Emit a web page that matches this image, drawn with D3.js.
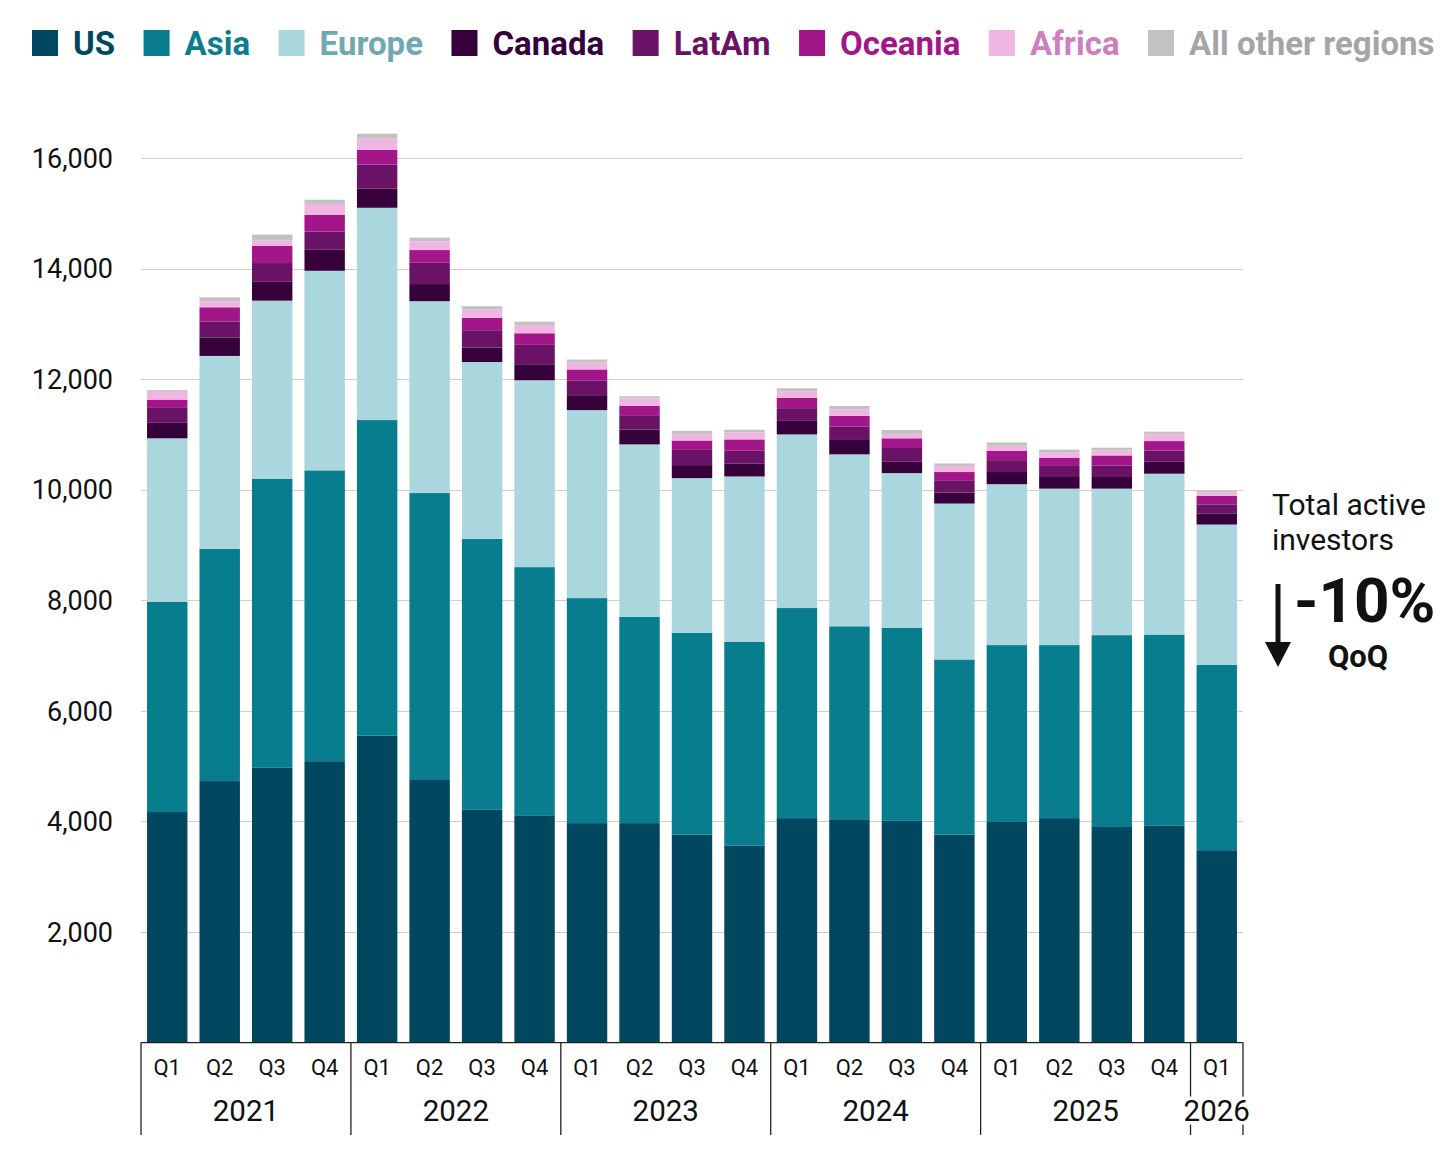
<!DOCTYPE html>
<html>
<head>
<meta charset="utf-8">
<script src="https://cdn.jsdelivr.net/npm/d3@7"></script>
<style>
  body { margin: 0; background: #fff; }
  svg { display: block; font-family: Roboto, "Noto Sans", sans-serif; }
</style>
</head>
<body>
<script>
// quarters and years
var quarters = ["Q1","Q2","Q3","Q4","Q1","Q2","Q3","Q4","Q1","Q2","Q3","Q4","Q1","Q2","Q3","Q4","Q1","Q2","Q3","Q4","Q1"];
var years = ["2021","2021","2021","2021","2022","2022","2022","2022","2023","2023","2023","2023","2024","2024","2024","2024","2025","2025","2025","2025","2026"];

// active investors per region
var us      = [4170,4730,4970,5090,5550,4750,4210,4100,3970,3970,3760,3560,4060,4040,4010,3760,3990,4060,3900,3920,3480];
var asia    = [3800,4200,5230,5260,5710,5190,4900,4500,4070,3730,3650,3690,3800,3490,3490,3170,3200,3130,3470,3460,3350];
var europe  = [2960,3490,3220,3610,3840,3470,3200,3380,3400,3120,2800,2990,3140,3110,2800,2820,2910,2830,2650,2910,2540];
var canada  = [280,330,340,380,350,310,260,290,270,270,235,230,245,260,205,200,220,210,210,215,195];
var latam   = [270,295,340,330,430,385,315,350,260,245,275,235,230,240,250,210,215,200,210,205,170];
var oceania = [150,255,310,300,265,230,225,210,205,180,170,205,185,195,175,160,170,150,180,170,155];
var africa  = [140,110,95,200,205,160,150,150,125,135,120,125,120,120,80,110,90,100,90,130,60];
var other   = [30,70,110,75,90,65,60,60,55,40,55,50,55,60,70,45,60,45,50,40,35];

var regions = ["US","Asia","Europe","Canada","LatAm","Oceania","Africa","All other regions"];
var barColors = ["#01475f","#087d8e","#aad7de","#36003b","#6a1266","#a3168a","#f1b5e2","#c2c2c2"];
var textColors = ["#01475f","#087d8e","#6fa7b3","#36003b","#6a1266","#a3168a","#cf7fbf","#a5a5a5"];
var yTicks = [2000,4000,6000,8000,10000,12000,14000,16000];

var series = [us, asia, europe, canada, latam, oceania, africa, other];

var width = 1456, height = 1165;
var plotLeft = 141, plotRight = 1243, plotTop = 158, plotBase = 1042.6;

var rows = quarters.map(function(q, i) {
  var r = {key: i};
  regions.forEach(function(name, k) { r[name] = series[k][i]; });
  return r;
});

var svg = d3.select("body").append("svg")
    .attr("width", width)
    .attr("height", height);

var x = d3.scaleBand()
    .domain(d3.range(quarters.length))
    .range([plotLeft, plotRight])
    .paddingInner(0.23)
    .paddingOuter(0.115);

var y = d3.scaleLinear().domain([0, 16000]).range([plotBase, plotTop]);

// grid
svg.append("g").selectAll("line")
    .data(yTicks)
  .enter().append("line")
    .attr("x1", plotLeft).attr("x2", plotRight)
    .attr("y1", function(d) { return Math.round(y(d)) + 0.5; })
    .attr("y2", function(d) { return Math.round(y(d)) + 0.5; })
    .attr("stroke", "#cfcfcf")
    .attr("stroke-width", 1.2);

// y labels
svg.append("g").selectAll("text")
    .data(yTicks)
  .enter().append("text")
    .attr("x", 113)
    .attr("y", function(d) { return y(d); })
    .attr("dy", "0.36em")
    .attr("text-anchor", "end")
    .attr("font-size", 27)
    .attr("fill", "#111")
    .text(d3.format(","));

// stacked bars
var stack = d3.stack().keys(regions)(rows);

svg.append("g").selectAll("g")
    .data(stack)
  .enter().append("g")
    .attr("fill", function(d, i) { return barColors[i]; })
  .selectAll("rect")
    .data(function(d) { return d; })
  .enter().append("rect")
    .attr("x", function(d) { return x(d.data.key); })
    .attr("width", x.bandwidth())
    .attr("y", function(d) { return y(d[1]); })
    .attr("height", function(d) { return y(d[0]) - y(d[1]); });

// x axis
var axis = svg.append("g").attr("stroke", "#222").attr("stroke-width", 1.3);
axis.append("line")
    .attr("x1", plotLeft).attr("x2", plotRight)
    .attr("y1", plotBase).attr("y2", plotBase);

var yearList = Array.from(new Set(years));
var groups = yearList.map(function(yr) {
  var idx = years.map(function(v, i) { return v === yr ? i : -1; }).filter(function(i) { return i >= 0; });
  var step = x.step();
  var x0 = plotLeft + idx[0] * step;
  var x1 = plotLeft + (idx[idx.length - 1] + 1) * step;
  return {year: yr, x0: x0, x1: x1};
});

var seps = groups.map(function(g) { return g.x0; }).concat([plotRight]);
axis.selectAll(".sep")
    .data(seps)
  .enter().append("line")
    .attr("class", "sep")
    .attr("x1", function(d) { return d; }).attr("x2", function(d) { return d; })
    .attr("y1", plotBase).attr("y2", 1135);

svg.append("g").selectAll("text")
    .data(quarters)
  .enter().append("text")
    .attr("x", function(d, i) { return x(i) + x.bandwidth() / 2; })
    .attr("y", 1067)
    .attr("dy", "0.36em")
    .attr("text-anchor", "middle")
    .attr("font-size", 22)
    .attr("fill", "#111")
    .text(function(d) { return d; });

svg.append("g").selectAll("text")
    .data(groups)
  .enter().append("text")
    .attr("x", function(d) { return (d.x0 + d.x1) / 2; })
    .attr("y", 1110)
    .attr("dy", "0.36em")
    .attr("text-anchor", "middle")
    .attr("font-size", 29.5)
    .attr("fill", "#111")
    .attr("stroke", "#fff")
    .attr("stroke-width", 7)
    .attr("paint-order", "stroke")
    .text(function(d) { return d.year; });

// legend
var lx = 32;
var legend = svg.append("g");
regions.forEach(function(name, i) {
  legend.append("rect")
      .attr("x", lx).attr("y", 30)
      .attr("width", 26).attr("height", 26)
      .attr("fill", barColors[i]);
  var t = legend.append("text")
      .attr("x", lx + 41).attr("y", 43)
      .attr("dy", "0.36em")
      .attr("font-size", 33)
      .attr("font-weight", "bold")
      .attr("fill", textColors[i])
      .text(name);
  lx += 41 + t.node().getComputedTextLength() + 28.5;
});

// annotation
var note = svg.append("g").attr("fill", "#111");
note.append("text").attr("x", 1272).attr("y", 515).attr("font-size", 30).text("Total active");
note.append("text").attr("x", 1272).attr("y", 550).attr("font-size", 30).text("investors");
note.append("line")
    .attr("x1", 1278).attr("x2", 1278)
    .attr("y1", 584).attr("y2", 645)
    .attr("stroke", "#111").attr("stroke-width", 5);
note.append("path")
    .attr("d", "M1265,642L1291,642L1278,667Z");
note.append("text").attr("x", 1294).attr("y", 622)
    .attr("font-size", 62).attr("font-weight", "bold").text("-10%");
note.append("text").attr("x", 1358).attr("y", 667)
    .attr("text-anchor", "middle")
    .attr("font-size", 31).attr("font-weight", "bold").text("QoQ");
</script>
</body>
</html>
